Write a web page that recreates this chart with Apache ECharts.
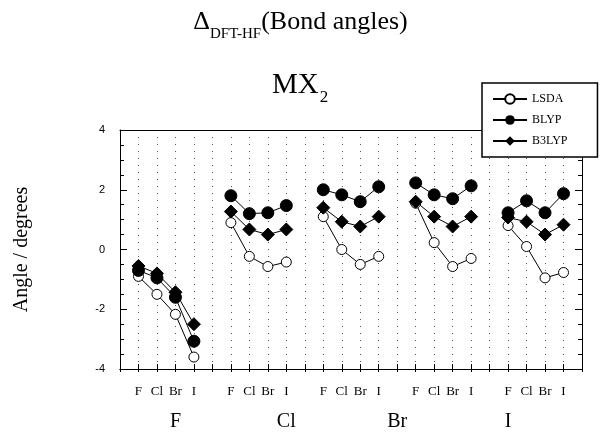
<!DOCTYPE html>
<html>
<head>
<meta charset="utf-8">
<script src="https://cdn.jsdelivr.net/npm/echarts@6/dist/echarts.min.js"></script>
<style>
html,body{margin:0;padding:0;background:#fff;}
#chart{width:601px;height:432px;}
</style>
</head>
<body>
<div id="chart"></div>
<script>
// Sub-category tick labels (repeated in each group) and group labels
const subLabels = ['F', 'Cl', 'Br', 'I'];
const groupLabels = ['F', 'Cl', 'Br', 'I'];
const groupLabelPos = [3, 9, 15, 21];
const yTicks = [-4, -2, 0, 2, 4];

// Values, one row per group of four
const lsda = [
  [-0.9, -1.5, -2.17, -3.6],
  [0.9, -0.23, -0.57, -0.42],
  [1.1, 0.0, -0.5, -0.23],
  [1.55, 0.23, -0.57, -0.3],
  [0.8, 0.1, -0.95, -0.77]
];
const blyp = [
  [-0.7, -0.95, -1.6, -3.07],
  [1.8, 1.2, 1.23, 1.47],
  [2.0, 1.83, 1.6, 2.1],
  [2.23, 1.83, 1.7, 2.13],
  [1.23, 1.63, 1.23, 1.87]
];
const b3lyp = [
  [-0.55, -0.8, -1.43, -2.5],
  [1.27, 0.67, 0.5, 0.67],
  [1.4, 0.93, 0.77, 1.1],
  [1.6, 1.1, 0.77, 1.1],
  [1.07, 0.93, 0.5, 0.83]
];

function toData(rows) {
  const out = [];
  rows.forEach((row, g) => {
    row.forEach((v, i) => out.push([g * 5 + i + 1, v]));
    out.push([g * 5 + 5, '-']);
  });
  return out;
}

const serif = '"Liberation Serif", "Times New Roman", serif';
const chart = echarts.init(document.getElementById('chart'), null, {renderer: 'canvas'});

const baseX = {
  type: 'value', min: 0, max: 25, interval: 1,
  axisLine: {show: true, onZero: false, lineStyle: {color: '#000', width: 1}},
  axisTick: {show: false}, axisLabel: {show: false}, splitLine: {show: false}
};

chart.setOption({
  animation: false,
  backgroundColor: '#fff',
  title: {
    text: '{a|Δ}{s|DFT-HF}{a|(Bond angles)}',
    left: 'center', top: 4,
    textStyle: {
      rich: {
        a: {fontFamily: serif, fontSize: 26, fontWeight: 'normal', color: '#000', verticalAlign: 'top', lineHeight: 30},
        s: {fontFamily: serif, fontSize: 15, fontWeight: 'normal', color: '#000', verticalAlign: 'top', lineHeight: 30, padding: [18, 0, 0, 0]}
      }
    }
  },
  graphic: [{
    type: 'text', left: 272, top: 71,
    style: {
      text: '{a|MX}{s|2}',
      rich: {
        a: {fontFamily: serif, fontSize: 29, fill: '#000', verticalAlign: 'top', lineHeight: 32},
        s: {fontFamily: serif, fontSize: 17, fill: '#000', verticalAlign: 'top', lineHeight: 32, padding: [18, 0, 0, 1]}
      }
    }
  }],
  legend: {
    orient: 'vertical', left: 482, top: 83,
    backgroundColor: '#fff', borderColor: '#000', borderWidth: 1.5,
    padding: [10, 30, 10, 10], itemGap: 9, itemWidth: 34, itemHeight: 12,
    textStyle: {fontFamily: serif, fontSize: 12, color: '#000'},
    data: ['LSDA', 'BLYP', 'B3LYP']
  },
  grid: {left: 120, right: 19, top: 130, bottom: 62},
  xAxis: [
    Object.assign({}, baseX, {
      position: 'bottom',
      axisTick: {show: true, inside: true, length: 5, lineStyle: {color: '#000'}},
      axisLabel: {
        show: true, margin: 16, fontFamily: serif, fontSize: 13, color: '#000',
        formatter: v => (v % 5 === 0 ? '' : subLabels[v % 5 - 1])
      },
      splitLine: {show: true, lineStyle: {color: '#555', width: 1, type: [1, 6]}}
    }),
    Object.assign({}, baseX, {
      position: 'bottom',
      axisTick: {show: true, inside: false, length: 3, lineStyle: {color: '#000'}},
      axisLabel: {
        show: true, margin: 43, fontFamily: serif, fontSize: 20, color: '#000',
        formatter: v => {
          const k = groupLabelPos.indexOf(v);
          return k >= 0 ? groupLabels[k] : '';
        }
      }
    }),
    Object.assign({}, baseX, {position: 'top'})
  ],
  yAxis: [
    {
      type: 'value', min: yTicks[0], max: yTicks[yTicks.length - 1], interval: 2,
      position: 'left',
      name: 'Angle / degrees', nameLocation: 'middle', nameGap: 88, nameRotate: 90,
      nameTextStyle: {fontFamily: serif, fontSize: 20, color: '#000'},
      axisLine: {show: true, onZero: false, lineStyle: {color: '#000', width: 1}},
      axisTick: {show: true, inside: true, length: 7, lineStyle: {color: '#000'}},
      minorTick: {show: true, splitNumber: 4, length: 4, lineStyle: {color: '#000'}},
      axisLabel: {fontFamily: '"Liberation Sans", Arial, sans-serif', fontSize: 11, color: '#000', margin: 15},
      splitLine: {show: false}
    },
    {
      type: 'value', min: yTicks[0], max: yTicks[yTicks.length - 1], interval: 2,
      position: 'right',
      axisLine: {show: true, onZero: false, lineStyle: {color: '#000', width: 1}},
      axisTick: {show: true, inside: true, length: 7, lineStyle: {color: '#000'}},
      minorTick: {show: true, splitNumber: 4, length: 4, lineStyle: {color: '#000'}},
      axisLabel: {show: false},
      splitLine: {show: false}
    }
  ],
  series: [
    {
      name: 'LSDA', type: 'line', data: toData(lsda), connectNulls: false,
      symbol: 'circle', symbolSize: 10,
      lineStyle: {color: '#000', width: 1},
      itemStyle: {color: '#fff', borderColor: '#000', borderWidth: 1}
    },
    {
      name: 'BLYP', type: 'line', data: toData(blyp), connectNulls: false,
      symbol: 'circle', symbolSize: 12,
      lineStyle: {color: '#000', width: 1},
      itemStyle: {color: '#000', borderColor: '#000'}
    },
    {
      name: 'B3LYP', type: 'line', data: toData(b3lyp), connectNulls: false,
      symbol: 'diamond', symbolSize: 13,
      lineStyle: {color: '#000', width: 1},
      itemStyle: {color: '#000', borderColor: '#000'}
    }
  ]
});
</script>
</body>
</html>
